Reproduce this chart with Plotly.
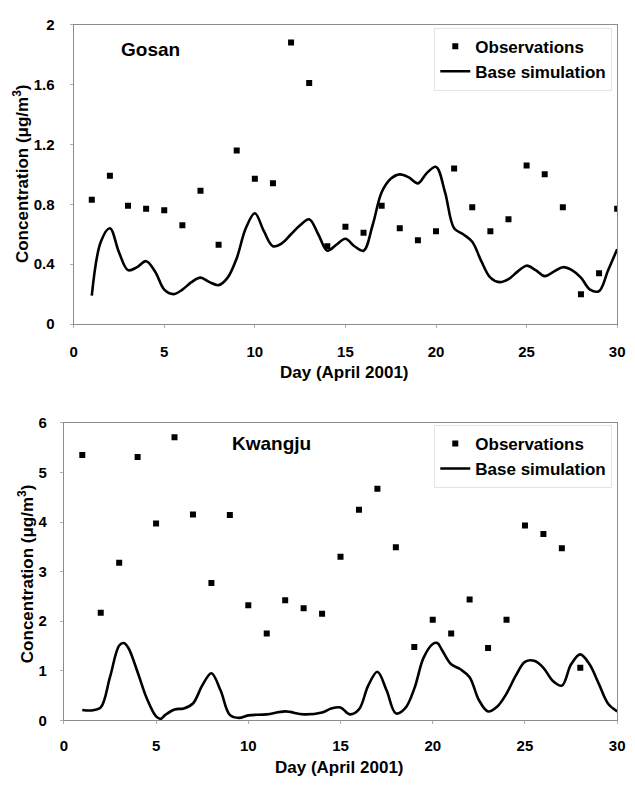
import plotly.graph_objects as go

# ---------------- data ----------------
days_obs = list(range(1, 31))
gosan_obs = [0.83, 0.99, 0.79, 0.77, 0.76, 0.66, 0.89, 0.53, 1.16, 0.97,
             0.94, 1.88, 1.61, 0.52, 0.65, 0.61, 0.79, 0.64, 0.56, 0.62,
             1.04, 0.78, 0.62, 0.70, 1.06, 1.00, 0.78, 0.20, 0.34, 0.77]

gosan_sim_days = [1, 1.5, 2, 2.5, 3, 3.5, 4, 4.5, 5, 5.5, 6, 6.5, 7, 7.5, 8, 8.5,
                  9, 9.5, 10, 10.5, 11, 11.5, 12, 12.5, 13, 13.5, 14, 14.5, 15,
                  15.5, 16, 16.5, 17, 17.5, 18, 18.5, 19, 19.5, 20, 20.5, 21,
                  21.5, 22, 22.5, 23, 23.5, 24, 24.5, 25, 25.5, 26, 26.5, 27,
                  27.5, 28, 28.5, 29, 29.5, 30]
gosan_sim = [0.19, 0.55, 0.64, 0.48, 0.36, 0.38, 0.42, 0.35, 0.23, 0.20, 0.23,
             0.28, 0.31, 0.28, 0.26, 0.31, 0.44, 0.64, 0.74, 0.62, 0.52, 0.54,
             0.60, 0.66, 0.70, 0.60, 0.49, 0.53, 0.57, 0.52, 0.49, 0.66, 0.88,
             0.97, 1.00, 0.98, 0.94, 1.01, 1.05, 0.88, 0.64, 0.60, 0.55, 0.42,
             0.31, 0.28, 0.30, 0.35, 0.39, 0.36, 0.32, 0.35, 0.38, 0.36, 0.31,
             0.23, 0.22, 0.36, 0.50]

kwangju_obs_days = list(range(1, 29))
kwangju_obs = [5.35, 2.17, 3.18, 5.31, 3.97, 5.71, 4.15, 2.77, 4.14, 2.32,
               1.75, 2.42, 2.26, 2.15, 3.30, 4.25, 4.67, 3.49, 1.48, 2.03,
               1.75, 2.44, 1.46, 2.03, 3.93, 3.76, 3.47, 1.06]

kwangju_sim_days = [1, 1.5, 2, 2.5, 3, 3.25, 3.5, 4, 4.5, 5, 5.25, 5.5, 6, 6.5,
                    7, 7.5, 8, 8.5, 9, 9.5, 10, 11, 12, 13, 14, 14.5, 15, 15.5,
                    16, 16.5, 17, 17.5, 18, 18.5, 19, 19.5, 20, 20.25, 20.5, 21,
                    21.5, 22, 22.5, 23, 23.5, 24, 24.5, 25, 25.5, 26, 26.5, 27,
                    27.5, 28, 28.5, 29, 29.5, 30]
kwangju_sim = [0.21, 0.20, 0.26, 0.87, 1.51, 1.56, 1.46, 0.97, 0.44, 0.08, 0.03,
               0.11, 0.22, 0.24, 0.34, 0.70, 0.95, 0.60, 0.11, 0.05, 0.10, 0.12,
               0.18, 0.12, 0.16, 0.24, 0.26, 0.12, 0.22, 0.70, 0.98, 0.60, 0.14,
               0.24, 0.64, 1.26, 1.54, 1.56, 1.42, 1.13, 1.03, 0.87, 0.41, 0.18,
               0.28, 0.54, 0.90, 1.18, 1.20, 1.06, 0.80, 0.70, 1.13, 1.33, 1.13,
               0.74, 0.34, 0.18]

x_ticks = [0, 5, 10, 15, 20, 25, 30]
gosan_yticks = [0, 0.4, 0.8, 1.2, 1.6, 2]
gosan_yticktext = ["0", "0.4", "0.8", "1.2", "1.6", "2"]
kwangju_yticks = [0, 1, 2, 3, 4, 5, 6]

# ---------------- figure ----------------
W, H = 635, 789
FONT = "Liberation Sans"
fig = go.Figure()

fig.add_trace(go.Scatter(x=days_obs, y=gosan_obs, mode="markers", name="Observations",
                         marker=dict(symbol="square", size=6, color="black"),
                         xaxis="x", yaxis="y", legend="legend"))
fig.add_trace(go.Scatter(x=gosan_sim_days, y=gosan_sim, mode="lines", name="Base simulation",
                         line=dict(color="black", width=2.6, shape="spline", smoothing=1.0),
                         xaxis="x", yaxis="y", legend="legend"))
fig.add_trace(go.Scatter(x=kwangju_obs_days, y=kwangju_obs, mode="markers", name="Observations",
                         marker=dict(symbol="square", size=6, color="black"),
                         xaxis="x2", yaxis="y2", legend="legend2"))
fig.add_trace(go.Scatter(x=kwangju_sim_days, y=kwangju_sim, mode="lines", name="Base simulation",
                         line=dict(color="black", width=2.6, shape="spline", smoothing=1.0),
                         xaxis="x2", yaxis="y2", legend="legend2"))

tickfont = dict(family=FONT, size=15, color="black", weight="bold")
axis_common = dict(showline=True, linecolor="#8c8c8c", linewidth=1.2, mirror=True,
                   showgrid=False, zeroline=False, ticks="outside", ticklen=3,
                   tickcolor="#b0b0b0", tickfont=tickfont)


def px_x(p):
    return p / W


def px_y(p):
    return 1 - p / H


legend_font = dict(family=FONT, size=17, color="black", weight="bold")
fig.update_layout(
    width=W, height=H, autosize=False,
    margin=dict(l=0, r=0, t=0, b=0),
    paper_bgcolor="white", plot_bgcolor="white",
    showlegend=True,
    xaxis=dict(domain=[px_x(71), px_x(625)], range=[0, 30], tickvals=x_ticks,
               anchor="y", ticklabelstandoff=11, **axis_common),
    yaxis=dict(domain=[px_y(322), px_y(16)], range=[0, 2], tickvals=gosan_yticks,
               ticktext=gosan_yticktext, anchor="x", ticklabelstandoff=12, **axis_common),
    xaxis2=dict(domain=[px_x(61), px_x(625)], range=[0, 30], tickvals=x_ticks,
                anchor="y2", ticklabelstandoff=9, **axis_common),
    yaxis2=dict(domain=[px_y(727), px_y(423)], range=[0, 6], tickvals=kwangju_yticks,
                anchor="x2", ticklabelstandoff=10, **axis_common),
    legend=dict(x=px_x(620), y=px_y(19), xanchor="right", yanchor="top",
                bgcolor="white", bordercolor="#e4e4e4", borderwidth=1,
                font=legend_font, tracegroupgap=0, itemwidth=30),
    legend2=dict(x=px_x(620), y=px_y(425), xanchor="right", yanchor="top",
                 bgcolor="white", bordercolor="#e4e4e4", borderwidth=1,
                 font=legend_font, tracegroupgap=0, itemwidth=30),
)

title_font = dict(family=FONT, size=17, color="black", weight="bold")
label_font = dict(family=FONT, size=19, color="black", weight="bold")
ann = [
    dict(text="Gosan", x=px_x(149), y=px_y(41), font=label_font),
    dict(text="Kwangju", x=px_x(273), y=px_y(444), font=label_font),
    dict(text="Day (April 2001)", x=px_x(347), y=px_y(372), font=title_font),
    dict(text="Day (April 2001)", x=px_x(342), y=px_y(775), font=title_font),
    dict(text="Concentration (μg/m<sup>3</sup>)", x=px_x(18), y=px_y(168), textangle=-90, font=title_font),
    dict(text="Concentration (μg/m<sup>3</sup>)", x=px_x(22), y=px_y(577), textangle=-90, font=title_font),
]
for a in ann:
    fig.add_annotation(xref="paper", yref="paper", showarrow=False,
                       xanchor="center", yanchor="middle", **a)

fig.write_html("out.html", config={"displayModeBar": False},
               post_script="document.body.style.margin='0';document.body.style.overflow='hidden';")
